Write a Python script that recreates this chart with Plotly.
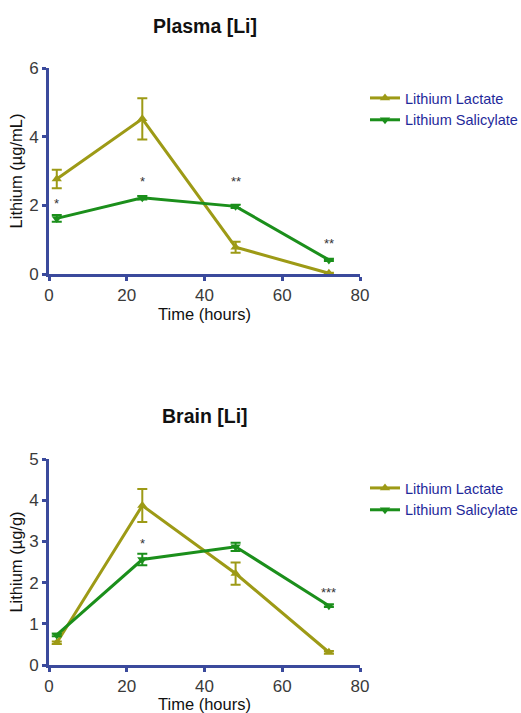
import plotly.graph_objects as go

time_h = [2, 24, 48, 72]

plasma_lactate = [2.77, 4.52, 0.78, 0.02]
plasma_lactate_err = [0.27, 0.60, 0.16, 0.02]
plasma_salicylate = [1.62, 2.22, 1.97, 0.41]
plasma_salicylate_err = [0.10, 0.05, 0.05, 0.03]
plasma_sig_x = [2, 24, 48, 72]
plasma_sig_y = [2.04, 2.70, 2.70, 0.90]
plasma_sig_txt = ["*", "*", "**", "**"]

brain_lactate = [0.54, 3.87, 2.22, 0.31]
brain_lactate_err = [0.03, 0.40, 0.27, 0.03]
brain_salicylate = [0.73, 2.56, 2.87, 1.44]
brain_salicylate_err = [0.03, 0.14, 0.10, 0.03]
brain_sig_x = [24, 72]
brain_sig_y = [2.95, 1.76]
brain_sig_txt = ["*", "***"]

series_names = ["Lithium Lactate", "Lithium Salicylate"]

C_LAC = "#9d9a16"
C_SAL = "#1b8f1b"
AXC = "#3b4a9c"
FONT = "Liberation Sans, Arial, sans-serif"

fig = go.Figure()

def add_series(y, err, name, color, symbol, xa, ya, legend):
    fig.add_trace(go.Scatter(
        x=time_h, y=y, name=name, mode="lines+markers",
        line=dict(color=color, width=3),
        marker=dict(symbol=symbol, size=9, color=color),
        error_y=dict(type="data", array=err, visible=True, color=color, thickness=2, width=5),
        xaxis=xa, yaxis=ya, legend=legend, cliponaxis=False,
    ))

add_series(plasma_lactate, plasma_lactate_err, series_names[0], C_LAC, "triangle-up", "x", "y", "legend")
add_series(plasma_salicylate, plasma_salicylate_err, series_names[1], C_SAL, "triangle-down", "x", "y", "legend")
add_series(brain_lactate, brain_lactate_err, series_names[0], C_LAC, "triangle-up", "x2", "y2", "legend2")
add_series(brain_salicylate, brain_salicylate_err, series_names[1], C_SAL, "triangle-down", "x2", "y2", "legend2")

annotations = []
for x, y, t in zip(plasma_sig_x, plasma_sig_y, plasma_sig_txt):
    annotations.append(dict(x=x, y=y, xref="x", yref="y", text=t, showarrow=False,
                            font=dict(family=FONT, size=13, color="#333333")))
for x, y, t in zip(brain_sig_x, brain_sig_y, brain_sig_txt):
    annotations.append(dict(x=x, y=y, xref="x2", yref="y2", text=t, showarrow=False,
                            font=dict(family=FONT, size=13, color="#333333")))

annotations.append(dict(x=205/521, y=1-26/713, xref="paper", yref="paper", yanchor="middle",
                        text="<b>Plasma [Li]</b>", showarrow=False,
                        font=dict(family=FONT, size=19.5, color="#111111")))
annotations.append(dict(x=205/521, y=1-416/713, xref="paper", yref="paper", yanchor="middle",
                        text="<b>Brain [Li]</b>", showarrow=False,
                        font=dict(family=FONT, size=19.5, color="#111111")))

axis_common = dict(showline=True, linecolor=AXC, linewidth=3, ticks="outside", tickcolor=AXC,
                   tickwidth=3, ticklen=4, showgrid=False, zeroline=False, automargin=False,
                   tickfont=dict(family=FONT, size=17, color="#3a3a3a"))
TF = dict(family=FONT, size=16.5, color="#111111")

xdom = [49/521, 360/521]
fig.update_layout(
    width=521, height=713,
    margin=dict(l=0, r=0, t=0, b=0, autoexpand=False),
    paper_bgcolor="white", plot_bgcolor="white",
    showlegend=True,
    xaxis=dict(domain=xdom, range=[0, 80], dtick=20, anchor="y",
               title=dict(text="Time (hours)", font=TF, standoff=5), **axis_common),
    yaxis=dict(domain=[1-274/713, 1-68/713], range=[0, 6], dtick=2, anchor="x",
               title=dict(text="Lithium (µg/mL)", font=TF, standoff=3), **axis_common),
    xaxis2=dict(domain=xdom, range=[0, 80], dtick=20, anchor="y2",
                title=dict(text="Time (hours)", font=TF, standoff=5), **axis_common),
    yaxis2=dict(domain=[1-665/713, 1-459/713], range=[0, 5], dtick=1, anchor="x2",
                title=dict(text="Lithium (µg/g)", font=TF, standoff=3), **axis_common),
    legend=dict(x=365/521, y=1-82/713, xanchor="left", yanchor="top", bgcolor="rgba(0,0,0,0)",
                font=dict(family=FONT, size=14.5, color="#1f2a9a"), tracegroupgap=0, itemwidth=30),
    legend2=dict(x=365/521, y=1-472/713, xanchor="left", yanchor="top", bgcolor="rgba(0,0,0,0)",
                 font=dict(family=FONT, size=14.5, color="#1f2a9a"), tracegroupgap=0, itemwidth=30),
    annotations=annotations,
)

fig.write_html("out.html", config={"displayModeBar": False},
               post_script="document.body.style.margin='0';document.body.style.padding='0';")
